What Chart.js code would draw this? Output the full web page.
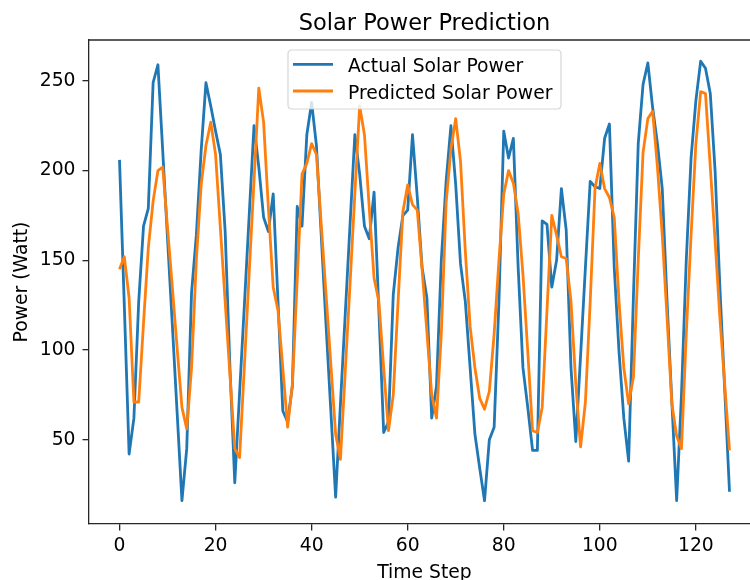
<!DOCTYPE html>
<html>
<head>
<meta charset="utf-8">
<script src="https://cdn.jsdelivr.net/npm/chart.js@4.4.1/dist/chart.umd.min.js"></script>
<style>
  html, body { margin: 0; padding: 0; background: #ffffff; overflow: hidden; }
  #wrap { width: 750px; height: 580px; overflow: hidden; position: relative; }
  canvas { display: block; }
</style>
</head>
<body>
<div id="wrap"><canvas id="c" width="775" height="580" style="width:775px;height:580px"></canvas></div>
<script>
// ---- data ----
const chartTitle = "Solar Power Prediction";
const xAxisLabel = "Time Step";
const yAxisLabel = "Power (Watt)";
const seriesNames = ["Actual Solar Power", "Predicted Solar Power"];

const timeSteps = [0,1,2,3,4,5,6,7,8,9,10,11,12,13,14,15,16,17,18,19,20,21,22,23,24,25,26,27,28,29,30,31,32,33,34,35,36,37,38,39,40,41,42,43,44,45,46,47,48,49,50,51,52,53,54,55,56,57,58,59,60,61,62,63,64,65,66,67,68,69,70,71,72,73,74,75,76,77,78,79,80,81,82,83,84,85,86,87,88,89,90,91,92,93,94,95,96,97,98,99,100,101,102,103,104,105,106,107,108,109,110,111,112,113,114,115,116,117,118,119,120,121,122,123,124,125,126,127];

const actualPower = [206,125,42,62,127,169,179,249,259,211,162,114,65,16,45,132,164,211,249,236,
  222,209,166,90,26,76,125,175,225,202,174,166,187,127,66,60,80,180,169,220,
  238,214,164,114,66,18,70,120,170,220,198,169,162,188,122,54,60,131,157,175,
  178,220,185,146,129,62,80,150,194,225,192,148,127,90,53,34,16,50,57,127,
  222,207,218,146,90,68,44,44,172,170,135,150,190,167,90,49,97,146,194,191,
  190,218,226,146,99,62,38,130,215,248,260,235,215,190,127,71,16,75,150,207,
  239,261,257,243,200,135,78,21];

const predictedPower = [145,152,129,71,71,115,157,183,200,202,168,135,101,68,56,90,150,192,214,227,
  209,168,127,86,45,40,91,143,194,246,227,179,135,122,90,57,81,139,198,204,
  215,209,170,131,92,53,39,88,137,187,236,220,179,140,127,90,55,75,127,177,
  192,181,178,145,110,75,62,109,182,212,229,205,155,113,90,73,67,77,109,150,
  187,200,193,176,142,99,55,54,68,122,175,164,152,151,127,81,46,71,127,190,
  204,190,185,174,127,90,70,85,150,210,229,233,202,164,118,70,52,45,109,164,
  215,244,243,202,161,118,81,44];

const xTicks = [0, 20, 40, 60, 80, 100, 120];
const yTicks = [50, 100, 150, 200, 250];

// ---- styling ----
const FONT = "'DejaVu Sans', sans-serif";
const TICK_SIZE = 18.75;
const SPINE = '#262626';
const BLUE = '#1f77b4';
const ORANGE = '#ff7f0e';

const toPoints = (vals) => timeSteps.map((t, i) => ({ x: t, y: vals[i] }));

const decorPlugin = {
  id: 'decor',
  afterDraw(chart) {
    const ctx = chart.ctx;
    const a = chart.chartArea;
    ctx.save();
    // blank strip at the window's right edge (the right spine lies outside the window)
    ctx.fillStyle = '#ffffff';
    ctx.fillRect(742, a.top + 1, chart.width - 742, a.bottom - a.top - 2);

    // top spine
    ctx.strokeStyle = SPINE;
    ctx.lineWidth = 1.3;
    ctx.beginPath();
    ctx.moveTo(a.left, a.top);
    ctx.lineTo(chart.width, a.top);
    ctx.stroke();

    const cx = (a.left + a.right) / 2;
    ctx.fillStyle = '#000000';
    ctx.font = "22.5px " + FONT;
    ctx.textAlign = 'center';
    ctx.textBaseline = 'alphabetic';
    ctx.fillText(chartTitle, cx, 29.8);
    ctx.font = TICK_SIZE + "px " + FONT;
    ctx.fillText(xAxisLabel, cx, 577.5);
    ctx.save();
    ctx.translate(26.7, (a.top + a.bottom) / 2);
    ctx.rotate(-Math.PI / 2);
    ctx.fillText(yAxisLabel, 0, 0);
    ctx.restore();

    // legend
    const lx = 288, ly = 50, lw = 273, lh = 59, r = 4;
    ctx.beginPath();
    ctx.moveTo(lx + r, ly);
    ctx.lineTo(lx + lw - r, ly);
    ctx.quadraticCurveTo(lx + lw, ly, lx + lw, ly + r);
    ctx.lineTo(lx + lw, ly + lh - r);
    ctx.quadraticCurveTo(lx + lw, ly + lh, lx + lw - r, ly + lh);
    ctx.lineTo(lx + r, ly + lh);
    ctx.quadraticCurveTo(lx, ly + lh, lx, ly + lh - r);
    ctx.lineTo(lx, ly + r);
    ctx.quadraticCurveTo(lx, ly, lx + r, ly);
    ctx.closePath();
    ctx.fillStyle = 'rgba(255,255,255,0.8)';
    ctx.fill();
    ctx.strokeStyle = 'rgba(204,204,204,0.8)';
    ctx.lineWidth = 1.2;
    ctx.stroke();

    const entries = [
      { name: seriesNames[0], color: BLUE, y: 64.3, base: 71.7 },
      { name: seriesNames[1], color: ORANGE, y: 91, base: 98.5 }
    ];
    entries.forEach(e => {
      ctx.strokeStyle = e.color;
      ctx.lineWidth = 2.8;
      ctx.beginPath();
      ctx.moveTo(293, e.y);
      ctx.lineTo(333, e.y);
      ctx.stroke();
      ctx.fillStyle = '#000000';
      ctx.font = TICK_SIZE + "px " + FONT;
      ctx.textAlign = 'left';
      ctx.textBaseline = 'alphabetic';
      ctx.fillText(e.name, 348, e.base);
    });
    ctx.restore();
  }
};

new Chart(document.getElementById('c'), {
  type: 'line',
  data: {
    datasets: [
      { label: seriesNames[0], data: toPoints(actualPower), borderColor: BLUE, borderWidth: 2.8,
        pointRadius: 0, tension: 0, borderJoinStyle: 'round', fill: false, order: 1 },
      { label: seriesNames[1], data: toPoints(predictedPower), borderColor: ORANGE, borderWidth: 2.8,
        pointRadius: 0, tension: 0, borderJoinStyle: 'round', fill: false, order: 0 }
    ]
  },
  options: {
    responsive: false,
    animation: false,
    devicePixelRatio: 1,
    layout: { autoPadding: false, padding: { left: 0, right: 15, top: 40, bottom: 0 } },
    plugins: { legend: { display: false }, title: { display: false }, tooltip: { enabled: false } },
    scales: {
      x: {
        type: 'linear', min: -6.35, max: 133.35,
        afterBuildTicks: (s) => { s.ticks = xTicks.map(v => ({ value: v })); },
        afterFit: (s) => { s.height = 56; },
        grid: { display: true, drawOnChartArea: false, drawTicks: true, tickLength: 6.5, color: SPINE, lineWidth: 1.3 },
        border: { display: true, color: SPINE, width: 1.3 },
        ticks: { color: '#000000', font: { family: FONT, size: TICK_SIZE }, padding: 4, maxRotation: 0, autoSkip: false }
      },
      y: {
        type: 'linear', min: 3.0, max: 272.8,
        afterBuildTicks: (s) => { s.ticks = yTicks.map(v => ({ value: v })); },
        afterFit: (s) => { s.width = 89; },
        grid: { display: true, drawOnChartArea: false, drawTicks: true, tickLength: 6.5, color: SPINE, lineWidth: 1.3 },
        border: { display: true, color: SPINE, width: 1.3 },
        ticks: { color: '#000000', font: { family: FONT, size: TICK_SIZE }, padding: 7, autoSkip: false }
      }
    }
  },
  plugins: [decorPlugin]
});
</script>
</body>
</html>
